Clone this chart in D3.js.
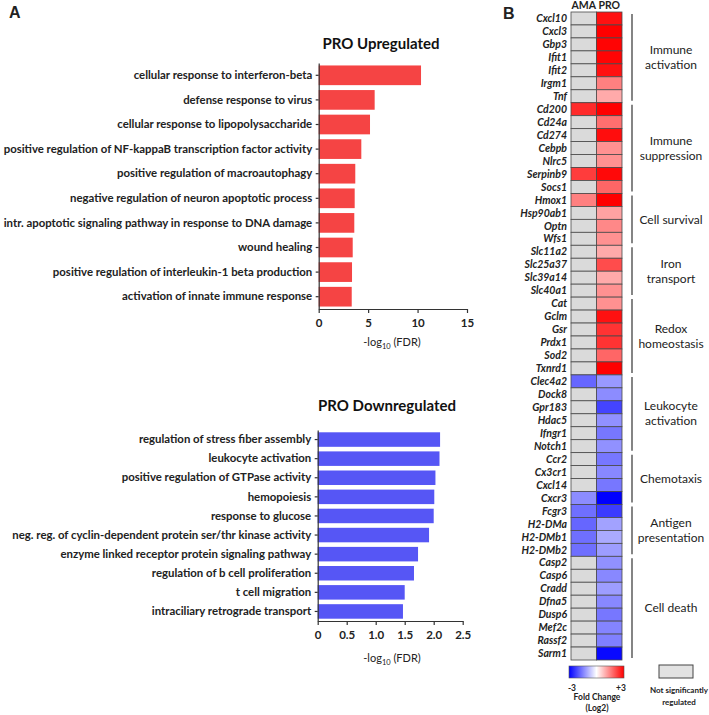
<!DOCTYPE html>
<html><head><meta charset="utf-8">
<script src="https://cdn.jsdelivr.net/npm/d3@7"></script>
<style>
body{margin:0;background:#fff;}
text{font-family:Lato,"Open Sans",sans-serif;fill:#222;}
</style></head>
<body><svg id="c" width="709" height="715"></svg>
<script>
// ---- Data ----
const upTerms = ["cellular response to interferon-beta","defense response to virus","cellular response to lipopolysaccharide","positive regulation of NF-kappaB transcription factor activity","positive regulation of macroautophagy","negative regulation of neuron apoptotic process","intr. apoptotic signaling pathway in response to DNA damage","wound healing","positive regulation of interleukin-1 beta production","activation of innate immune response"];
const upValues = [10.35,5.66,5.19,4.31,3.70,3.64,3.60,3.44,3.37,3.34];
const upTicks = [0,5,10,15];
const downTerms = ["regulation of stress fiber assembly","leukocyte activation","positive regulation of GTPase activity","hemopoiesis","response to glucose","neg. reg. of cyclin-dependent protein ser/thr kinase activity","enzyme linked receptor protein signaling pathway","regulation of b cell proliferation","t cell migration","intraciliary retrograde transport"];
const downValues = [2.11,2.10,2.03,2.01,2.00,1.92,1.73,1.66,1.50,1.47];
const downTicks = [0,0.5,1.0,1.5,2.0,2.5];
const downTickLabels = ["0","0.5","1.0","1.5","2.0","2.5"];

const conditions = ["AMA","PRO"];
const genes = ["Cxcl10","Cxcl3","Gbp3","Ifit1","Ifit2","Irgm1","Tnf",
 "Cd200","Cd24a","Cd274","Cebpb","Nlrc5","Serpinb9","Socs1",
 "Hmox1","Hsp90ab1","Optn","Wfs1",
 "Slc11a2","Slc25a37","Slc39a14","Slc40a1",
 "Cat","Gclm","Gsr","Prdx1","Sod2","Txnrd1",
 "Clec4a2","Dock8","Gpr183","Hdac5","Ifngr1","Notch1",
 "Ccr2","Cx3cr1","Cxcl14","Cxcr3",
 "Fcgr3","H2-DMa","H2-DMb1","H2-DMb2",
 "Casp2","Casp6","Cradd","Dfna5","Dusp6","Mef2c","Rassf2","Sarm1"];
// null = not significantly regulated
const amaValues = [null,null,null,null,null,null,null,
 2.5,null,null,null,null,2.3,null,
 1.5,null,null,null,
 null,null,null,null,
 null,null,null,null,null,null,
 -1.8,null,null,null,null,null,
 null,null,null,-1.35,
 -1.7,-1.8,-1.7,-1.7,
 null,null,null,null,null,null,null,null];
const proValues = [2.8,3.0,2.95,2.95,2.8,1.5,1.0,
 3.0,1.7,2.85,1.3,1.3,2.9,1.8,
 3.0,1.1,1.4,1.3,
 1.0,2.1,1.0,1.3,
 1.3,2.8,2.4,2.4,1.8,3.0,
 -1.2,-1.35,-2.2,-1.3,-1.6,-1.3,
 -1.6,-1.4,-1.6,-3.0,
 -2.3,-1.1,-1.0,-1.15,
 -1.3,-1.4,-1.15,-1.4,-1.6,-1.45,-1.5,-2.9];
const groupNames = [["Immune","activation"],["Immune","suppression"],["Cell survival"],["Iron","transport"],["Redox","homeostasis"],["Leukocyte","activation"],["Chemotaxis"],["Antigen","presentation"],["Cell death"]];
const groupSizes = [7,7,4,4,6,6,4,4,8];
const legendTicks = ["-3","+3"];

// ---- Drawing ----
const svg = d3.select("#c");
svg.append("text").attr("x",9).attr("y",18).style("font-family","Arial, 'Liberation Sans'").style("font-weight","bold").style("font-size","16px").text("A");
svg.append("text").attr("x",503).attr("y",19).style("font-family","Arial, 'Liberation Sans'").style("font-weight","bold").style("font-size","16px").text("B");

function barChart(cfg){
  const g = svg.append("g");
  const x = d3.scaleLinear().domain(cfg.domain).range(cfg.xr);
  const y = d3.scaleBand().domain(cfg.terms).range(cfg.yr).paddingInner(cfg.pad).paddingOuter(cfg.pad/2);
  g.selectAll("rect").data(cfg.values).enter().append("rect")
    .attr("x",x(0)).attr("y",(d,i)=>y(cfg.terms[i]))
    .attr("width",d=>x(d)-x(0)).attr("height",y.bandwidth())
    .attr("fill",cfg.color);
  const ya = g.append("g").attr("transform",`translate(${x(0)},0)`)
    .call(d3.axisLeft(y).tickSize(3).tickSizeOuter(0).tickPadding(3.5));
  ya.selectAll("text").style("font-size","11.4px").style("font-weight","bold").style("fill","#222");
  const xa = g.append("g").attr("transform",`translate(0,${cfg.yr[1]})`)
    .call(d3.axisBottom(x).tickValues(cfg.ticks).tickFormat((d,i)=>cfg.tickLabels[i]).tickSize(4).tickSizeOuter(0).tickPadding(6));
  xa.selectAll("text").style("font-size","11.5px").style("font-weight","bold").style("fill","#222");
  g.selectAll(".domain, .tick line").attr("stroke","#333").attr("stroke-width",1.2);
  g.append("text").attr("x",cfg.titleX).attr("y",cfg.titleY).attr("text-anchor","middle")
    .style("font-size","15px").style("font-weight","bold").style("fill","#111").text(cfg.title);
  const lab = g.append("text").attr("x",392).attr("y",cfg.labY).attr("text-anchor","middle").style("font-size","11px").style("fill","#222");
  lab.append("tspan").text("-log");
  lab.append("tspan").attr("dy",2.5).style("font-size","7.5px").text("10");
  lab.append("tspan").attr("dy",-2.5).text(" (FDR)");
}
barChart({terms:upTerms,values:upValues,domain:[0,15],xr:[318.7,467],yr:[63,309],pad:0.2,color:"#f54444",
  ticks:upTicks,tickLabels:upTicks.map(String),title:"PRO Upregulated",titleX:381,titleY:49,labY:346});
barChart({terms:downTerms,values:downValues,domain:[0,2.5],xr:[317.7,462.7],yr:[430,621],pad:0.24,color:"#5656f5",
  ticks:downTicks,tickLabels:downTickLabels,title:"PRO Downregulated",titleX:387,titleY:411,labY:662});

// Heatmap
const hx = d3.scaleBand().domain(conditions).range([571,622]);
const hy = d3.scaleBand().domain(genes).range([12,660]);
const color = d3.scaleLinear().domain([-3,0,3]).range(["#0000ff","#ffffff","#ff0000"]);
const hm = svg.append("g");
const cells = [];
genes.forEach((gname,i)=>{ cells.push({g:gname,c:"AMA",v:amaValues[i]}); cells.push({g:gname,c:"PRO",v:proValues[i]}); });
hm.selectAll("rect").data(cells).enter().append("rect")
  .attr("x",d=>hx(d.c)).attr("y",d=>hy(d.g)).attr("width",hx.bandwidth()).attr("height",hy.bandwidth())
  .attr("fill",d=>d.v==null?"#dadada":color(d.v)).attr("stroke","#4a4a4a").attr("stroke-width",0.8);
hm.selectAll(".gl").data(genes).enter().append("text")
  .attr("x",567).attr("y",d=>hy(d)+hy.bandwidth()/2).attr("dy","0.35em").attr("text-anchor","end")
  .style("font-size","10.5px").style("font-style","italic").style("font-weight","bold").style("fill","#222").text(d=>d);
hm.selectAll(".cl").data(conditions).enter().append("text")
  .attr("x",d=>hx(d)+hx.bandwidth()/2).attr("y",9).attr("text-anchor","middle")
  .style("font-size","10.5px").style("font-weight","bold").style("fill","#222").text(d=>d);
// groups
let start=0;
groupSizes.forEach((n,k)=>{
  const y0 = hy(genes[start]), y1 = hy(genes[start+n-1])+hy.bandwidth();
  hm.append("line").attr("x1",632).attr("x2",632).attr("y1",y0+2).attr("y2",y1-2).attr("stroke","#666").attr("stroke-width",1.6);
  const lines = groupNames[k];
  const cy = (y0+y1)/2;
  lines.forEach((t,j)=>{
    hm.append("text").attr("x",671).attr("y",cy+(j-(lines.length-1)/2)*15).attr("dy","0.35em")
      .attr("text-anchor","middle").style("font-size","12px").style("fill","#222").text(t);
  });
  start+=n;
});
// legend
const defs = svg.append("defs");
const grad = defs.append("linearGradient").attr("id","fc");
[-3,-1.5,0,1.5,3].forEach(v=>grad.append("stop").attr("offset",((v+3)/6*100)+"%").attr("stop-color",color(v)));
const lx = d3.scaleLinear().domain([-3,3]).range([569,624]);
svg.append("rect").attr("x",lx(-3)).attr("y",666).attr("width",lx(3)-lx(-3)).attr("height",12).attr("fill","url(#fc)").attr("stroke","#555").attr("stroke-width",0.6);
svg.selectAll(".lt").data(legendTicks).enter().append("text")
  .attr("x",(d,i)=>lx(i?3:-3)+(i?-3:3)).attr("y",691).attr("text-anchor","middle")
  .style("font-size","8.5px").style("font-weight","bold").text(d=>d);
svg.append("text").attr("x",597).attr("y",700).attr("text-anchor","middle").style("font-size","8.5px").style("font-weight","bold").text("Fold Change");
svg.append("text").attr("x",597).attr("y",711).attr("text-anchor","middle").style("font-size","8.5px").style("font-weight","bold").text("(Log2)");
svg.append("rect").attr("x",659).attr("y",665).attr("width",34).attr("height",13).attr("fill","#e2e2e2").attr("stroke","#444").attr("stroke-width",1);
svg.append("text").attr("x",679).attr("y",693).attr("text-anchor","middle").style("font-size","8px").style("font-weight","bold").text("Not significantly");
svg.append("text").attr("x",679).attr("y",705).attr("text-anchor","middle").style("font-size","8px").style("font-weight","bold").text("regulated");
</script></body></html>
